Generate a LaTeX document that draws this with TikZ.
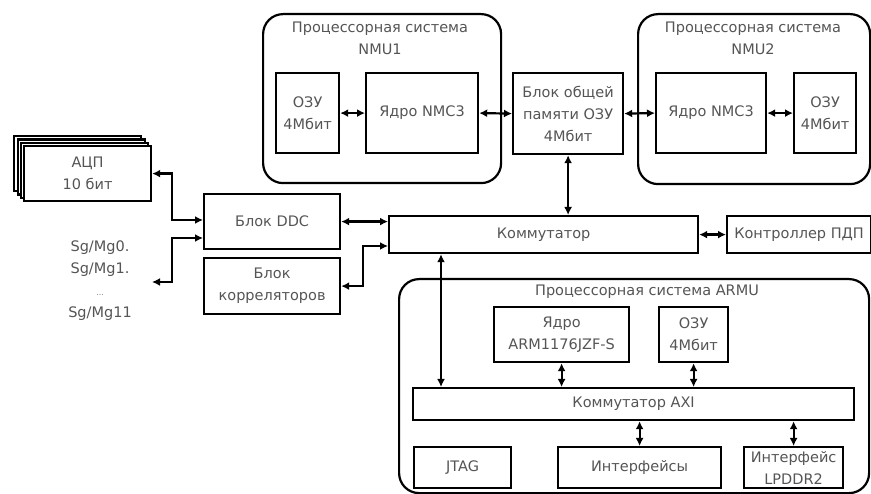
\documentclass[tikz,border=0pt]{standalone}
\usepackage{fontspec}
\setmainfont{DejaVu Sans}
\usetikzlibrary{arrows.meta,calc}
\definecolor{txt}{HTML}{555555}
\tikzset{
  box/.style={draw=black, line width=2.2pt, fill=white, text=txt, align=center, inner sep=0pt, anchor=north west},
  cont/.style={draw=black, line width=2.2pt, rounded corners=20pt, anchor=north west, inner sep=0pt},
  title/.style={text=txt, align=center, inner sep=0pt},
  arr/.style={line width=2.2pt, {Latex[length=8pt,width=8pt]}-{Latex[length=8pt,width=8pt]}},
}
\begin{document}
\begin{tikzpicture}[x=1pt,y=-1pt, font=\fontsize{14.5}{22}\selectfont]
\useasboundingbox[fill=white] (0,0) rectangle (871,494);
% containers
\node[cont, minimum width=238pt, minimum height=169pt] (nmu1) at (262,13) {};
\node[title] (nmu1t) at (380,38) {Процессорная система\\NMU1};
\node[cont, minimum width=232pt, minimum height=170pt] (nmu2) at (637,13) {};
\node[title] (nmu2t) at (753,38) {Процессорная система\\NMU2};
\node[cont, minimum width=470pt, minimum height=214pt] (armu) at (398,278) {};
\node[title] (armut) at (647,292) {Процессорная система ARMU};
% NMU boxes
\node[box, minimum width=63pt, minimum height=80pt] (ozu1) at (275,72) {ОЗУ\\4Мбит};
\node[box, minimum width=112pt, minimum height=80pt] (core1) at (365,72) {Ядро NMC3};
\node[box, minimum width=110pt, minimum height=81pt] (mem) at (512,72) {Блок общей\\памяти ОЗУ\\4Мбит};
\node[box, minimum width=110pt, minimum height=80pt] (core2) at (655,72) {Ядро NMC3};
\node[box, minimum width=62pt, minimum height=80pt] (ozu2) at (793,72) {ОЗУ\\4Мбит};
% ADC stack
\node[box, minimum width=127pt, minimum height=55pt] (adcc) at (13,135) {};
\node[box, minimum width=127pt, minimum height=55pt] (adcb) at (16.5,138.5) {};
\node[box, minimum width=127pt, minimum height=55pt] (adca) at (20,142) {};
\node[box, minimum width=127pt, minimum height=55pt] (adc) at (23,145) {АЦП\\10 бит};
\node[title] (sg) at (100,281) {Sg/Mg0.\\Sg/Mg1.\\{\scriptsize\ldots}\\Sg/Mg11};
% middle
\node[box, minimum width=136pt, minimum height=55pt] (ddc) at (203,193) {Блок DDC};
\node[box, minimum width=136pt, minimum height=56pt] (corr) at (203,257) {Блок\\корреляторов};
\node[box, minimum width=309pt, minimum height=37pt] (komm) at (388,215) {Коммутатор};
\node[box, minimum width=144pt, minimum height=37pt] (pdp) at (726,215) {Контроллер ПДП};
% ARMU boxes
\node[box, minimum width=135pt, minimum height=55pt] (arm) at (493,306) {Ядро\\ARM1176JZF-S};
\node[box, minimum width=69pt, minimum height=55pt] (ozu3) at (658,306) {ОЗУ\\4Мбит};
\node[box, minimum width=441pt, minimum height=32pt] (axi) at (412,387) {Коммутатор AXI};
\node[box, minimum width=97pt, minimum height=41pt] (jtag) at (413,446) {JTAG};
\node[box, minimum width=163pt, minimum height=41pt] (intf) at (557,446) {Интерфейсы};
\node[box, minimum width=99pt, minimum height=41pt] (lpddr) at (743,446) {Интерфейс\\LPDDR2};
% junction coordinates
\coordinate (j1) at (172,220);
\coordinate (j2) at (172,238);
\coordinate (sgend) at (152,282);
\coordinate (j3) at (363,246);
\coordinate (j4) at (441,0);
% connectors
\draw[arr] (ozu1.east) -- (core1.west);
\draw[arr] (core1.east) -- (mem.west);
\draw[arr] (mem.east) -- (core2.west);
\draw[arr] (core2.east) -- (ozu2.west);
\draw[arr] (mem.south) -- (komm.north -| mem.south);
\draw[arr] (adc.east) -| (j1) -- (ddc.west |- j1);
\draw[arr] (sgend) -| (j2) -- (ddc.west |- j2);
\draw[arr] (ddc.east) -- (komm.west |- ddc.east);
\draw[arr] (corr.east) -| (j3) -- (komm.west |- j3);
\draw[arr] (komm.east) -- (pdp.west);
\draw[arr] (komm.south -| j4) -- (axi.north -| j4);
\draw[arr] (arm.south) -- (axi.north -| arm.south);
\draw[arr] (ozu3.south) -- (axi.north -| ozu3.south);
\draw[arr] (intf.north) -- (axi.south -| intf.north);
\draw[arr] (lpddr.north) -- (axi.south -| lpddr.north);
\end{tikzpicture}
\end{document}
